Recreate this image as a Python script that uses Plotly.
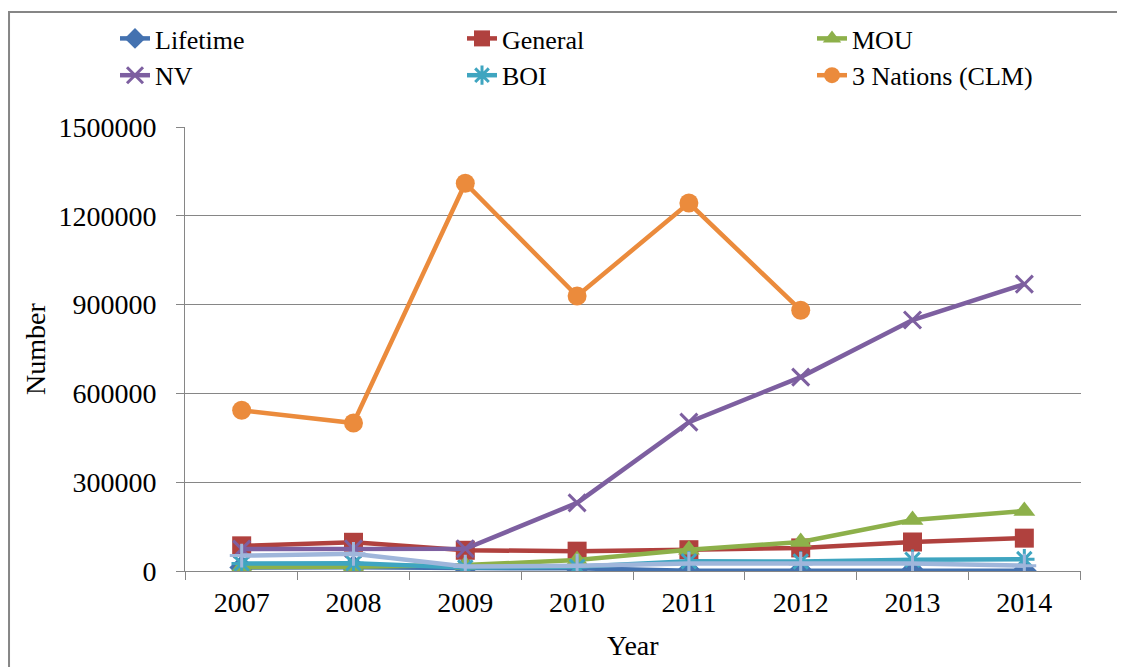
import plotly.graph_objects as go

years = ["2007", "2008", "2009", "2010", "2011", "2012", "2013", "2014"]
lifetime = [12000, 13000, 10000, 9000, 1000, 1000, 1000, 1000]
general = [85000, 97000, 70000, 67000, 72000, 78000, 98000, 111000]
mou = [13000, 14000, 20000, 37000, 72000, 98000, 172000, 203000]
nv = [74000, 75000, 75000, 230000, 503000, 655000, 848000, 969000]
boi = [25000, 26000, 12000, 14000, 33000, 32000, 38000, 40000]
clm = [543000, 500000, 1310000, 929000, 1243000, 881000, None, None]
other = [52000, 58000, 15000, 18000, 25000, 24000, 25000, 18000]

FONT = "Liberation Serif"

series = [
    ("Lifetime", lifetime, "#4472B0", "diamond", "legend"),
    ("General", general, "#B0413E", "square", "legend2"),
    ("MOU", mou, "#8DB04A", "triangle-up", "legend3"),
    ("NV", nv, "#7D5FA0", "x-thin-open", "legend"),
    ("BOI", boi, "#3FA5C0", "asterisk-open", "legend2"),
    ("3 Nations (CLM)", clm, "#EB8B3C", "circle", "legend3"),
]

fig = go.Figure()
for name, vals, col, sym, leg in series:
    thin = sym.endswith("open")
    fig.add_trace(go.Scatter(
        x=years, y=vals, name=name, mode="lines+markers", legend=leg,
        line=dict(color=col, width=4.5),
        marker=dict(symbol=sym, size=19 if not thin else 17, color=col,
                    line=dict(color=col, width=3 if thin else 0)),
    ))

fig.add_trace(go.Scatter(
    x=years, y=other, name="", mode="lines+markers", showlegend=False,
    line=dict(color="#9FB6DB", width=4.5),
    marker=dict(symbol="cross-thin-open", size=17, color="#9FB6DB",
                line=dict(color="#9FB6DB", width=3)),
))

def leg(xpx):
    return dict(orientation="v", xref="container", yref="container",
                x=xpx / 1125, y=1 - 7 / 667, xanchor="left", yanchor="top",
                tracegroupgap=0,
                font=dict(family=FONT, size=26), bgcolor="rgba(0,0,0,0)")

fig.update_layout(
    width=1125, height=667,
    margin=dict(l=177, r=52, t=119, b=104, autoexpand=False),
    paper_bgcolor="white", plot_bgcolor="white",
    font=dict(family=FONT, size=27, color="black"),
    xaxis=dict(
        type="category", tickson="boundaries", ticks="outside", ticklen=8,
        tickcolor="#868686", showline=True, linecolor="#868686", linewidth=1,
        showgrid=False, tickfont=dict(size=28), ticklabelstandoff=6,
    ),
    yaxis=dict(
        range=[0, 1500000], tickvals=[0, 300000, 600000, 900000, 1200000, 1500000],
        ticktext=["0", "300000", "600000", "900000", "1200000", "1500000"],
        ticks="outside", ticklen=8, tickcolor="#868686",
        showline=True, linecolor="#868686", linewidth=1,
        showgrid=True, gridcolor="#868686", gridwidth=1, zeroline=False,
        tickfont=dict(size=28), ticklabelstandoff=14,
    ),
    annotations=[
        dict(text="Number", xref="paper", yref="paper", x=-0.1674, y=0.5,
             textangle=-90, showarrow=False, font=dict(size=28),
             xanchor="center", yanchor="middle"),
        dict(text="Year", xref="paper", yref="paper", x=0.5, y=-0.1667,
             showarrow=False, font=dict(size=28),
             xanchor="center", yanchor="middle"),
    ],
    legend=leg(107),
    legend2=leg(454),
    legend3=leg(804),
    shapes=[dict(type="rect", xref="paper", yref="paper",
                 x0=-0.1964, x1=1.2, y0=-0.26, y1=1.259,
                 line=dict(color="#868686", width=2), fillcolor="rgba(0,0,0,0)",
                 layer="below")],
)

fig.write_html("out.html")
